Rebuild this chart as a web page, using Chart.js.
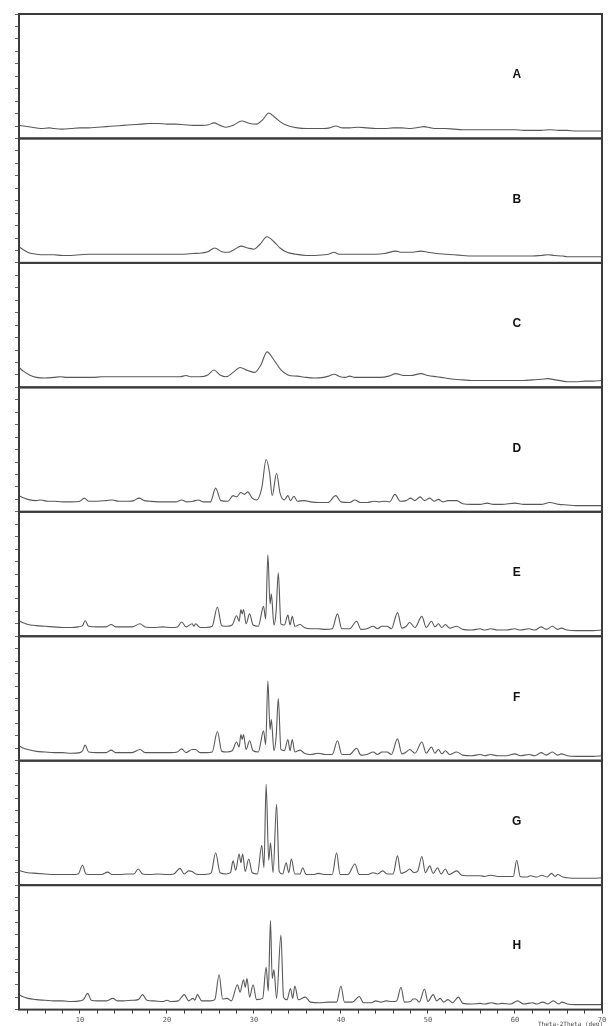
<!DOCTYPE html>
<html>
<head>
<meta charset="utf-8">
<script src="https://cdn.jsdelivr.net/npm/chart.js@4.4.1/dist/chart.umd.min.js"></script>
<style>
  html, body { margin: 0; padding: 0; background: #fff; }
  #wrap { position: relative; width: 610px; height: 1026px; }
</style>
</head>
<body>
<div id="wrap"><canvas id="xrd"></canvas></div>
<script>
// Sample names, top to bottom
const sampleNames = ['A', 'B', 'C', 'D', 'E', 'F', 'G', 'H'];

// 2-theta axis
const xTickValues = [4, 6, 8, 10, 12, 14, 16, 18, 20, 22, 24, 26, 28, 30, 32, 34, 36, 38, 40,
    42, 44, 46, 48, 50, 52, 54, 56, 58, 60, 62, 64, 66, 68, 70];
const xTickLabels = [10, 20, 30, 40, 50, 60, 70];

// Traces: [2theta (deg), intensity as % of panel full scale]
const patternA = [[3,10.5],[3.5,10],[4.5,9],[5.5,8],[6.5,8.5],[7,8],[8,7.5],[9,8],[10,8.5],[11,8.5],[12,9],[13,9.5],
    [14,10],[15,10.5],[16,11],[17,11.5],[18,12],[19,12],[20,11.5],[21,11.5],[22,11],[23,10.5],[24,10.5],[24.8,11],
    [25.4,12.5],[26.1,10.5],[26.8,9],[27.6,10.5],[28.6,14],[29.5,12],[30.3,11.5],[31,15],[31.7,20.5],[32.4,17],
    [33.2,12.5],[34,10],[35,8.5],[36,8],[37,8],[38,8],[38.7,8.5],[39.4,10],[40.2,8.5],[41,8.5],[42,9],[43,8.5],
    [44,8],[45,8],[46,8.5],[47,8.5],[48,8],[49,9],[49.5,9.5],[50.3,8.5],[51,8],[52,8],[53,7.5],[54,7],[55,7],
    [56,7],[57,7],[58,7],[59,7],[60,7],[61,6.5],[62,6.5],[63,6.5],[64,7],[65,6.5],[66,6.5],[67,6],[68,6],[69,6],[70,6]];

const patternB = [[3,13],[3.5,10.5],[4.2,8],[5,7],[6,6.5],[7,6.5],[8,6],[9,6],[10,6.5],[11,7],[12,7],[13,7],[14,7],
    [15,7],[16,7],[17,7],[18,7],[19,7],[20,7],[21,7],[22,7],[23,7.5],[24,8],[24.7,9],[25.5,12],[26.3,9],[27,8.5],
    [27.8,11],[28.5,13.5],[29.3,12],[30,11],[30.7,15],[31.5,21],[32.3,17],[33,12],[33.8,8.5],[34.8,7],[36,6],[37,6],
    [38,6.5],[38.6,7],[39.2,8.5],[39.8,7],[41,7],[42,7],[43,7],[44,7],[45,7.5],[46.3,9.5],[47,8.5],[48,8.5],
    [49.2,9.5],[50,8.5],[51,7.5],[52,7],[53,6.5],[54,6],[55,5.5],[56,5.5],[57,5.5],[58,5.5],[59,5.5],[60,5.5],
    [61,5.5],[62,5.5],[63,6],[63.8,6.5],[64.5,6],[65.5,5.5],[66,5],[67,5],[68,5],[69,5],[70,5]];

const patternC = [[3,16],[3.5,13],[4.2,10],[5,8],[6,7.5],[7,8],[7.8,8.5],[8.5,8],[9.5,8],[10.5,8],[11.5,8],[12.5,8.5],
    [13.5,8.5],[14.5,8.5],[15.5,8.5],[16.5,8.5],[17.5,8.5],[18.5,8.5],[19.5,8.5],[20.5,8.5],[21.5,8.5],[22.2,9.5],
    [22.8,8.5],[23.8,8.5],[24.7,10],[25.4,14],[26.1,10],[26.8,8.5],[27.6,12],[28.4,16],[29.3,13.5],[30.1,12],
    [30.8,18],[31.5,28.5],[32.3,22],[33.1,14],[33.9,10],[35,9],[36,8],[37,7.5],[38,8],[38.6,9],[39.2,10.5],
    [39.9,8.5],[40.5,8],[41,9],[41.6,8],[42.5,8],[43.5,8],[44.5,8],[45.5,9],[46.3,11],[47.2,9.5],[48,9.5],
    [49.2,11],[50,9.5],[51,8.5],[52,7.5],[53,6.5],[54,6],[55,5.5],[56,5.5],[57,5.5],[58,5.5],[59,5.5],[60,5.5],
    [61,5.5],[62,6],[63,6.5],[63.8,7],[64.6,6],[65.5,5],[66,4.5],[67,4.5],[68,5],[69,5],[70,5.5]];

const patternD = [[3,13],[3.4,11.5],[4,10],[5,9],[5.5,9.5],[6.3,8.5],[7,8.5],[8,8],[9,8],[10,8.5],[10.5,11],[11,8.5],
    [12,8.5],[13,9],[13.7,9.5],[14.5,8.5],[15.5,8.5],[16.2,9],[16.8,11],[17.4,9],[18,8.5],[19,8],[20,8],[21,8],
    [21.7,9.5],[22.3,8],[23,8.5],[23.6,9.5],[24.2,8],[25,8],[25.6,19],[26.2,9],[27,8.5],[27.6,13],[28,12],
    [28.5,15.5],[28.9,14],[29.3,16],[29.8,11],[30.3,9.5],[30.9,19],[31.4,42],[31.8,31],[32.1,13],[32.6,31],[33,15],
    [33.5,9.5],[33.9,13],[34.2,9],[34.6,12.5],[35,8.5],[35.8,9],[36.5,8],[37.5,7.5],[38.5,7.5],[39.4,13],[40,8],
    [41,7.5],[41.6,9.5],[42.2,7.5],[43,7.5],[43.8,8.5],[44.4,8],[45,8.5],[45.6,8],[46.2,14],[46.8,8.5],[47.5,9],
    [48,11],[48.5,9],[49.1,12],[49.6,9],[50.2,11],[50.7,8.5],[51.2,10],[51.7,8],[52.3,9],[53.3,9],[54,6.5],[55,6],
    [56,6],[56.8,7],[57.5,6],[58.5,6],[60,7],[61,6],[62,6],[63,6],[64,7.5],[65,6],[66,5.5],[67,5],[68,5],[69,5],[70,5]];

const patternE = [[3,12.5],[3.4,11],[4,9.5],[5,8.5],[6,8],[7,7.5],[8,7],[9,7],[9.8,7.5],[10.3,8.5],[10.6,12.5],[11,8],
    [12,7.5],[13,7.5],[13.6,9.5],[14.1,7.5],[15,7.5],[16,7.5],[16.9,10],[17.5,7.5],[18.5,7],[19.5,7.5],[20.5,7],
    [21.2,7.5],[21.7,11.5],[22.2,7.5],[22.9,10],[23.1,8],[23.3,10],[23.8,7],[24.5,7],[25.2,8],[25.8,23.5],[26.3,8.5],
    [26.9,8],[27.5,9],[28,16.5],[28.3,12],[28.5,21.5],[28.65,18],[28.8,21.5],[29.1,10],[29.5,18],[29.9,9],[30.5,8],
    [31.1,24],[31.35,14],[31.6,65.5],[31.85,26],[32,34],[32.3,9],[32.55,20],[32.8,51],[33.1,10],[33.5,9],[33.9,17],
    [34.15,9],[34.4,16],[34.7,8],[35.3,9.5],[35.8,7],[36.5,6],[37.4,6],[38.2,5.5],[39,6],[39.6,18],[40.1,6],[41,6],
    [41.8,12],[42.3,5.5],[43,6],[43.7,8],[44.2,6],[44.7,8],[45.3,8],[45.8,6],[46.5,19],[47,6.5],[47.5,8],[47.9,11],
    [48.5,7],[49.3,16],[49.8,7],[50.4,12],[50.8,7.5],[51.2,10],[51.6,7],[52,9.5],[52.5,6.5],[53.3,8],[54,5.5],[55,5],
    [56,6],[56.5,5],[57.2,6],[58,5],[59,5],[60,6],[60.6,5],[61.6,6],[62.3,5],[63,7.5],[63.6,5.5],[64.3,8],[64.9,5.5],
    [65.3,6.5],[66,5],[67,4.5],[68,4.5],[69,4.5],[70,5]];

const patternF = [[3,12],[3.4,10.5],[4,9],[5,7.5],[6,7],[7,6.5],[8,6.5],[9,6],[10,6.5],[10.3,8],[10.6,12.5],[11,7],
    [12,6.5],[13,6.5],[13.6,8.5],[14.1,6.5],[15,6.5],[16,6.5],[16.9,9],[17.5,6.5],[18.5,6.5],[19.5,6.5],[20.5,6.5],
    [21.2,7],[21.7,9.5],[22.2,6.5],[22.9,9],[23.3,9],[23.8,6.5],[24.5,6.5],[25.2,7],[25.8,23.5],[26.3,7.5],[26.9,7],
    [27.5,8],[28,15],[28.3,11],[28.5,21],[28.65,17],[28.8,21],[29.1,9],[29.5,16],[29.9,8],[30.5,7],[31.1,24],
    [31.35,13],[31.6,64],[31.85,25],[32,33],[32.3,8],[32.55,19],[32.8,50],[33.1,9],[33.5,8],[33.9,17],[34.15,8],
    [34.4,17],[34.7,7],[35.3,8.5],[35.8,6],[36.5,5],[37.4,6],[38.2,5],[39,5],[39.6,16],[40.1,5],[41,5],[41.8,10],
    [42.3,4.5],[43,5],[43.7,7],[44.2,5],[44.7,7],[45.3,7],[45.8,5],[46.5,17.5],[47,5.5],[47.5,7],[47.9,9],[48.5,6],
    [49.3,15],[49.8,6],[50.4,11],[50.8,6],[51.2,9],[51.6,5.5],[52,8],[52.5,5],[53.3,7],[54,4.5],[55,4],[56,5],
    [56.5,4],[57.2,5],[58,4],[59,4],[60,5.5],[60.6,4],[61.6,5],[62.3,4],[63,6.5],[63.6,4.5],[64.3,7],[64.9,4.5],
    [65.3,5.5],[66,4],[67,3.5],[68,3.5],[69,3.5],[70,4]];

const patternG = [[3,12],[3.4,11],[4,10],[5,9.5],[6,9],[7,8.5],[8,8.5],[9,8.5],[9.8,9],[10.3,16],[10.7,9],[11.5,8.5],
    [12.5,8.5],[13.2,10.5],[13.7,8.5],[14.5,8.5],[15.5,9],[16.2,9],[16.7,13],[17.2,9],[18,8.5],[19,9],[20,8.5],
    [20.8,9],[21.5,13.5],[22,9],[22.5,11.5],[22.9,11],[23.3,9],[24,8.5],[24.8,9],[25.1,10],[25.6,26],[26.1,10],
    [26.8,9],[27.3,10],[27.6,19.5],[27.9,12],[28.3,25],[28.5,18],[28.7,25],[29,11],[29.4,21],[29.8,10],[30.4,9],
    [30.9,32],[31.15,14],[31.4,81],[31.7,20],[31.9,34],[32.2,10],[32.6,65],[32.9,11],[33.3,9],[33.7,18],[34,10],
    [34.3,21],[34.7,9],[35.3,9],[35.6,14],[36,8.5],[36.8,8.5],[37.4,9.5],[38.2,8.5],[39,8.5],[39.5,26],[39.9,8.5],
    [40.8,8.5],[41.6,17],[42.1,8.5],[43,8.5],[43.7,10],[44.2,9],[44.8,11.5],[45.3,9],[46,9],[46.5,23.5],[46.9,9.5],
    [47.5,11],[47.9,13],[48.4,10],[48.8,11],[49.3,23],[49.7,10],[50.2,15.5],[50.6,9.5],[51.1,14],[51.5,9],[52,13],
    [52.4,8.5],[53.3,11.5],[53.9,8],[55,7.5],[56,7.5],[56.5,7],[57.2,8],[58,7],[59,7],[59.8,7],[60.2,20],[60.6,7],
    [61.3,6.5],[61.8,7.5],[62.5,6.5],[63.1,8],[63.7,6.5],[64.2,9.5],[64.6,7],[64.9,8.5],[65.5,6.5],[66,6],[67,5.5],
    [68,5.5],[69,5.5],[70,6]];

const patternH = [[3,12],[3.4,10.5],[4,9],[5,8],[6,7.5],[7,7],[8,7],[9,6.5],[10,7],[10.4,8],[10.9,13],[11.3,7.5],
    [12,7],[13,7],[13.8,9],[14.3,7],[15,7],[16,7.5],[16.7,8],[17.2,12],[17.7,7.5],[18.5,7],[19.5,6.5],[20,7.5],
    [20.5,6.5],[21.3,7],[22,12],[22.5,7],[23,9],[23.2,7.5],[23.5,12],[24,7],[25,7],[25.5,8],[26,28],[26.4,8.5],
    [26.9,9],[27.4,7],[28.1,20],[28.4,14],[28.8,24],[29,18],[29.2,25],[29.5,10],[29.9,20],[30.3,8],[31,9],[31.4,34],
    [31.65,15],[31.9,71.5],[32.1,25],[32.3,32],[32.6,9],[33.1,60],[33.4,10],[33.8,8],[34.2,17],[34.45,9],[34.7,19],
    [35.1,8],[35.9,10],[36.5,6],[37.5,5.5],[38.5,6],[39.5,6],[40,19],[40.4,6],[41.3,6],[42.1,10.5],[42.6,5.5],
    [43.5,5.5],[44,7],[44.6,6],[45.2,7],[45.9,6.5],[46.4,7],[46.9,18],[47.3,6],[48,6.5],[48.3,8.5],[48.6,8.5],[49,6],
    [49.6,16.5],[50,6.5],[50.6,12],[51,7],[51.4,9],[51.8,6],[52.3,8],[52.8,5.5],[53.5,10],[54,5],[55,4.5],[56,5],
    [56.5,4.5],[57.3,5.5],[58,4.5],[58.5,5],[59.5,4.5],[60.3,7],[61,4.5],[62,5.5],[62.5,4.5],[63.2,6],[63.8,4.5],
    [64.4,7],[65,4.5],[65.4,6],[66,4.5],[67,4],[68,4],[69,4],[70,4]];

const patterns = [patternA, patternB, patternC, patternD, patternE, patternF, patternG, patternH];

const INK = '#3c3c3c';
const TRACE = '#585858';

// one stacked y scale per panel; the first one defined ends up at the bottom
const scales = {
    x: {
        type: 'linear',
        min: 3,
        max: 70,
        afterBuildTicks: axis => { axis.ticks = xTickValues.map(v => ({ value: v })); },
        ticks: {
            autoSkip: false,
            maxRotation: 0,
            padding: 2,
            color: '#555',
            font: { family: 'DejaVu Sans Mono', size: 7 },
            callback: v => xTickLabels.includes(v) ? String(v) : ''
        },
        grid: { drawOnChartArea: false, tickLength: 4, color: INK, tickWidth: 1 },
        border: { display: false }
    }
};
for (let i = sampleNames.length - 1; i >= 0; i--) {
    scales['y' + sampleNames[i]] = {
        type: 'linear',
        position: 'left',
        stack: 'panels',
        stackWeight: 1,
        min: 0,
        max: 100,
        ticks: { display: false, stepSize: 10 },
        grid: { drawOnChartArea: false, tickLength: 4, color: '#666', tickWidth: 1 },
        border: { display: false }
    };
}

const datasets = patterns.map((p, i) => ({
    label: sampleNames[i],
    yAxisID: 'y' + sampleNames[i],
    data: p.map(([x, y]) => ({ x, y })),
    borderColor: TRACE,
    borderWidth: 1.1,
    pointRadius: 0,
    fill: false,
    cubicInterpolationMode: 'monotone'
}));

// frame round every panel plus the sample letter
const panelFrames = {
    id: 'panelFrames',
    afterDraw(chart) {
        const { ctx, chartArea } = chart;
        ctx.save();
        ctx.strokeStyle = INK;
        ctx.lineWidth = 2;
        sampleNames.forEach(name => {
            const s = chart.scales['y' + name];
            ctx.strokeRect(chartArea.left, s.top, chartArea.right - chartArea.left, s.bottom - s.top);
        });
        ctx.fillStyle = '#111';
        ctx.font = 'bold 12px "Liberation Sans", Arial, sans-serif';
        ctx.textAlign = 'center';
        ctx.textBaseline = 'middle';
        const lx = chart.scales.x.getPixelForValue(60.2);
        sampleNames.forEach(name => {
            const s = chart.scales['y' + name];
            ctx.fillText(name, lx, s.getPixelForValue(51));
        });
        // axis caption, squeezed in under the last tick labels
        ctx.fillStyle = '#444';
        ctx.font = '6px "DejaVu Sans Mono", monospace';
        ctx.textAlign = 'right';
        ctx.textBaseline = 'top';
        ctx.fillText('Theta-2Theta (deg)', chartArea.right + 1, chartArea.bottom + 12);
        ctx.restore();
    }
};

new Chart(document.getElementById('xrd'), {
    type: 'line',
    data: { datasets },
    options: {
        responsive: true,
        maintainAspectRatio: false,
        animation: false,
        layout: { padding: { left: 15, right: 8, top: 14, bottom: 0 } },
        scales,
        plugins: {
            legend: { display: false },
            tooltip: { enabled: false }
        }
    },
    plugins: [panelFrames]
});
</script>
</body>
</html>
